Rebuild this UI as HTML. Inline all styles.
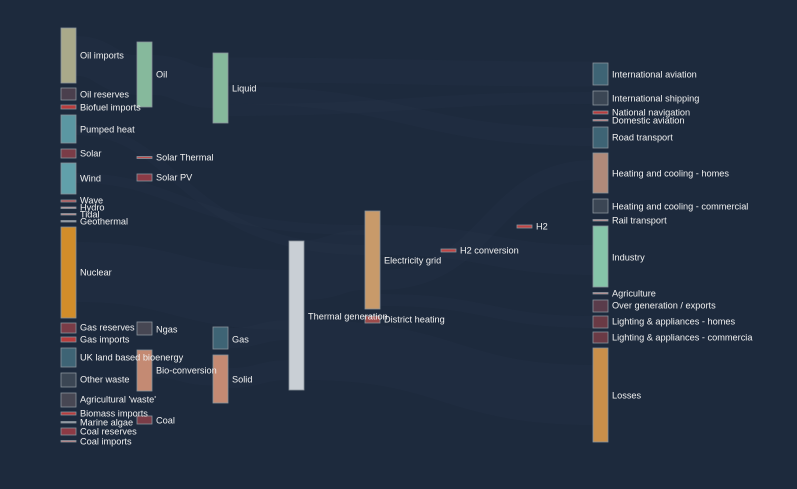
<!DOCTYPE html>
<html><head><meta charset="utf-8"><style>
html,body{margin:0;padding:0;background:#1d2a3d;}
svg{display:block}
text{font-family:"Liberation Sans",sans-serif;font-size:9.2px;fill:#f0f0f0;dominant-baseline:middle}
.n{stroke:#8a939c;stroke-width:0.8}
.l{fill:none;stroke:#2a3a4f;stroke-opacity:0.18}
</style></head><body>
<svg width="797" height="489" viewBox="0 0 797 489">
<defs><clipPath id="c"><rect x="0" y="0" width="753" height="489"/></clipPath></defs>
<rect width="797" height="489" fill="#1d2a3d"/>
<g class="links">
<path class="l" stroke-width="40" d="M76,56 C106,56 106,75 137,75"/>
<path class="l" stroke-width="40" d="M152,75 C182,75 182,88 213,88"/>
<path class="l" stroke-width="25" d="M228,70 C410,70 410,74 593,74"/>
<path class="l" stroke-width="18" d="M228,95 C410,95 410,137 593,137"/>
<path class="l" stroke-width="12" d="M228,110 C410,110 410,98 593,98"/>
<path class="l" stroke-width="60" d="M76,272 C180,272 180,300 289,300"/>
<path class="l" stroke-width="60" d="M304,270 C335,270 335,260 365,260"/>
<path class="l" stroke-width="60" d="M304,350 C450,350 450,395 593,395"/>
<path class="l" stroke-width="30" d="M380,240 C490,240 490,260 593,260"/>
<path class="l" stroke-width="20" d="M380,280 C490,280 490,170 593,170"/>
<path class="l" stroke-width="12" d="M380,300 C490,300 490,322 593,322"/>
<path class="l" stroke-width="10" d="M76,130 C180,130 180,250 365,250"/>
<path class="l" stroke-width="10" d="M76,178 C180,178 180,230 365,230"/>
<path class="l" stroke-width="20" d="M228,378 C260,378 260,370 289,370"/>
<path class="l" stroke-width="20" d="M228,338 C260,338 260,330 289,330"/>
<path class="l" stroke-width="15" d="M152,370 C182,370 182,378 213,378"/>
</g>
<g class="n">
<rect x="61" y="28" width="15" height="55" fill="#a9a98a"/>
<rect x="61" y="88" width="15" height="12" fill="#4a3f4d"/>
<rect x="61" y="105" width="15" height="4" fill="#b83c3c"/>
<rect x="61" y="115" width="15" height="28" fill="#5b97a2"/>
<rect x="61" y="149" width="15" height="9" fill="#7a3c47"/>
<rect x="61" y="163" width="15" height="31" fill="#61a0aa"/>
<rect x="61" y="200" width="15" height="2" fill="#b84c4c"/>
<rect x="61" y="207" width="15" height="1.5" fill="#c9a0a0"/>
<rect x="61" y="213.5" width="15" height="1.5" fill="#c99090"/>
<rect x="61" y="220.5" width="15" height="1.5" fill="#9aa0a8"/>
<rect x="61" y="227" width="15" height="91" fill="#d18d2a"/>
<rect x="61" y="323" width="15" height="10" fill="#7a3c47"/>
<rect x="61" y="337" width="15" height="5" fill="#b83c3c"/>
<rect x="61" y="348" width="15" height="19" fill="#3e6475"/>
<rect x="61" y="373" width="15" height="14" fill="#3b4654"/>
<rect x="61" y="393" width="15" height="14" fill="#474753"/>
<rect x="61" y="412" width="15" height="3" fill="#b83c3c"/>
<rect x="61" y="421.5" width="15" height="1.5" fill="#9aa0a8"/>
<rect x="61" y="428" width="15" height="7" fill="#8c3a45"/>
<rect x="61" y="440.5" width="15" height="1.5" fill="#c98080"/>
<rect x="137" y="42" width="15" height="65" fill="#86b99c"/>
<rect x="137" y="156.5" width="15" height="2" fill="#c05050"/>
<rect x="137" y="174" width="15" height="7" fill="#8c3a45"/>
<rect x="137" y="322" width="15" height="13" fill="#474753"/>
<rect x="137" y="350" width="15" height="41" fill="#c48a73"/>
<rect x="137" y="416" width="15" height="8" fill="#7a3c47"/>
<rect x="213" y="53" width="15" height="70" fill="#86b99c"/>
<rect x="213" y="327" width="15" height="22" fill="#3e6475"/>
<rect x="213" y="355" width="15" height="48" fill="#c48a73"/>
<rect x="289" y="241" width="15" height="149" fill="#c9cfd5"/>
<rect x="365" y="211" width="15" height="98" fill="#c89a6a"/>
<rect x="365" y="316" width="15" height="7" fill="#9c4a4a"/>
<rect x="441" y="249" width="15" height="3" fill="#c04444"/>
<rect x="517" y="225" width="15" height="3" fill="#c04444"/>
<rect x="593" y="63" width="15" height="22" fill="#3e6475"/>
<rect x="593" y="91" width="15" height="14" fill="#3b4654"/>
<rect x="593" y="111" width="15" height="3" fill="#b83c3c"/>
<rect x="593" y="119.5" width="15" height="1.5" fill="#c98080"/>
<rect x="593" y="127" width="15" height="21" fill="#3e6475"/>
<rect x="593" y="153" width="15" height="40" fill="#b08a7a"/>
<rect x="593" y="199" width="15" height="14" fill="#3b4654"/>
<rect x="593" y="219.5" width="15" height="1.5" fill="#c99090"/>
<rect x="593" y="226" width="15" height="61" fill="#86c4a9"/>
<rect x="593" y="292.5" width="15" height="1.5" fill="#c99090"/>
<rect x="593" y="300" width="15" height="12" fill="#5a3c4b"/>
<rect x="593" y="316" width="15" height="12" fill="#6a3a45"/>
<rect x="593" y="332" width="15" height="11" fill="#6a3a45"/>
<rect x="593" y="348" width="15" height="94" fill="#c98f4a"/>
</g>
<g clip-path="url(#c)">
<text x="80" y="56">Oil imports</text>
<text x="80" y="95">Oil reserves</text>
<text x="80" y="108">Biofuel imports</text>
<text x="80" y="130">Pumped heat</text>
<text x="80" y="154">Solar</text>
<text x="80" y="179">Wind</text>
<text x="80" y="201">Wave</text>
<text x="80" y="208">Hydro</text>
<text x="80" y="215">Tidal</text>
<text x="80" y="222">Geothermal</text>
<text x="80" y="273">Nuclear</text>
<text x="80" y="328">Gas reserves</text>
<text x="80" y="340">Gas imports</text>
<text x="80" y="358">UK land based bioenergy</text>
<text x="80" y="380">Other waste</text>
<text x="80" y="400">Agricultural 'waste'</text>
<text x="80" y="414">Biomass imports</text>
<text x="80" y="423">Marine algae</text>
<text x="80" y="432">Coal reserves</text>
<text x="80" y="442">Coal imports</text>
<text x="156" y="75">Oil</text>
<text x="156" y="158">Solar Thermal</text>
<text x="156" y="178">Solar PV</text>
<text x="156" y="330">Ngas</text>
<text x="156" y="371">Bio-conversion</text>
<text x="156" y="421">Coal</text>
<text x="232" y="89">Liquid</text>
<text x="232" y="340">Gas</text>
<text x="232" y="380">Solid</text>
<text x="308" y="317">Thermal generation</text>
<text x="384" y="261">Electricity grid</text>
<text x="384" y="320">District heating</text>
<text x="460" y="251">H2 conversion</text>
<text x="536" y="227">H2</text>
<text x="612" y="75">International aviation</text>
<text x="612" y="99">International shipping</text>
<text x="612" y="113">National navigation</text>
<text x="612" y="121">Domestic aviation</text>
<text x="612" y="138">Road transport</text>
<text x="612" y="174">Heating and cooling - homes</text>
<text x="612" y="207">Heating and cooling - commercial</text>
<text x="612" y="221">Rail transport</text>
<text x="612" y="258">Industry</text>
<text x="612" y="294">Agriculture</text>
<text x="612" y="306">Over generation / exports</text>
<text x="612" y="322">Lighting &amp; appliances - homes</text>
<text x="612" y="338">Lighting &amp; appliances - commercia</text>
<text x="612" y="396">Losses</text>
</g>
</svg>
</body></html>
